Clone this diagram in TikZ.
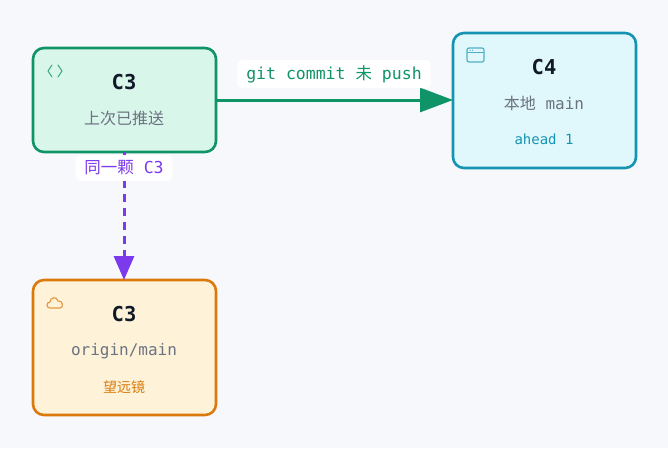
\documentclass[tikz,border=0pt]{standalone}
\usepackage{fontspec}
\setmainfont{DejaVu Sans Mono}
\newfontfamily\cjk{Noto Sans CJK SC}
\usetikzlibrary{arrows.meta}
\definecolor{bgc}{HTML}{F7F8FC}
\definecolor{grnb}{HTML}{0F9468}
\definecolor{grnf}{HTML}{D9F6EB}
\definecolor{cyb}{HTML}{1494B2}
\definecolor{cyf}{HTML}{E0F8FC}
\definecolor{amb}{HTML}{DB7A0B}
\definecolor{amf}{HTML}{FEF3D9}
\definecolor{purp}{HTML}{7C3AED}
\definecolor{titc}{HTML}{111827}
\definecolor{subc}{HTML}{6B7280}
\tikzset{
  card/.style={draw, line width=2.6pt, rounded corners=11pt, inner sep=0pt},
  ttl/.style={font=\fontsize{20.5}{22}\selectfont\bfseries, text=titc},
  sub/.style={font=\fontsize{16}{18}\selectfont, text=subc},
  tag/.style={font=\fontsize{14}{16}\selectfont},
  lbl/.style={fill=white, rounded corners=5pt, inner xsep=9pt, inner ysep=5.5pt, font=\fontsize{16.5}{18}\selectfont}
}
\begin{document}
\begin{tikzpicture}[x=1pt,y=-1pt]
\useasboundingbox (0,0) rectangle (668,448);
\fill[bgc] (0,0) rectangle (668,448);
% cards
\draw[card, draw=grnb, fill=grnf] (33,48) rectangle (216,152);
\draw[card, draw=cyb, fill=cyf] (453,33) rectangle (636,168);
\draw[card, draw=amb, fill=amf] (33,280) rectangle (216,415);
\coordinate (c3e) at (216,100);
\coordinate (c4w) at (453,100);
\coordinate (c3s) at (124,152);
\coordinate (ors) at (124,280);
% texts
\node[ttl] (t1) at (124,82) {C3};
\node[sub] (s1) at (124,118) {\cjk 上次已推送};
\node[ttl] (t2) at (544,67) {C4};
\node[sub] (s2) at (544,103) {{\cjk 本地} main};
\node[tag, text=cyb] (g2) at (544,139) {ahead 1};
\node[ttl] (t3) at (124,314) {C3};
\node[sub] (s3) at (124,351) {origin/main};
\node[tag, text=amb] (g3) at (124,387) {\cjk 望远镜};
% icons
\draw[grnb!80, line width=1pt, line cap=round, line join=round] (52,65) -- (48,71) -- (52,77) (58,65) -- (62,71) -- (58,77);
\draw[cyb!75, line width=1.2pt, rounded corners=2pt] (467,48) rectangle (484,62);
\draw[cyb!75, line width=1.2pt] (467,52.5) -- (484,52.5);
\fill[cyb!75] (470,50.3) circle (0.7) (472.5,50.3) circle (0.7);
\draw[amb!75, line width=1.2pt, line join=round] (50,308) .. controls (46,308) and (46,302) .. (50,302) .. controls (50,297) and (57,296) .. (58,301) .. controls (63,300) and (64,308) .. (60,308) -- cycle;
% connectors
\draw[grnb, line width=3pt, -{Triangle[length=33pt,width=24pt]}] (c3e) -- (c4w);
\node[lbl, text=grnb] (l1) at (334,74) {git commit {\cjk 未} push};
\draw[purp, line width=3pt, dash pattern=on 8pt off 6pt, -{Triangle[length=24pt,width=20pt]}] (c3s) -- (ors);
\node[lbl, text=purp] (l2) at (124,168) {{\cjk 同一颗} C3};
\end{tikzpicture}
\end{document}
